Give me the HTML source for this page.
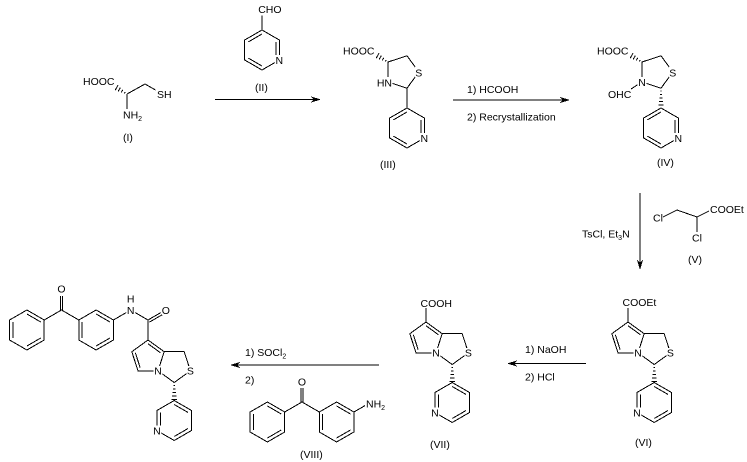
<!DOCTYPE html>
<html>
<head>
<meta charset="utf-8">
<style>
html,body{margin:0;padding:0;background:#fff;}
svg{display:block;}
text{font-family:"Liberation Sans",Arial,sans-serif;font-size:10.5px;fill:#000;}
.m{text-anchor:middle;}
.e{text-anchor:end;}
path{fill:none;stroke:#000;stroke-width:1;shape-rendering:crispEdges;}
.w{fill:#fff;stroke:none;}
.ah{fill:#000;stroke:none;shape-rendering:crispEdges;}
</style>
</head>
<body>
<svg width="747" height="462" viewBox="0 0 747 462" xmlns="http://www.w3.org/2000/svg">
<rect x="0" y="0" width="747" height="462" fill="#fff"/>

<!-- Compound I -->
<text x="83" y="85">HOOC</text>
<path d="M125.2,92.0 L124.4,93.4 M122.8,89.8 L121.3,92.4 M120.4,87.6 L118.2,91.3 M118.1,85.2 L115.0,90.4"/>
<path d="M127,94 L145,84 L155.5,90 M127,94 L127,109"/>
<text x="157" y="98">SH</text>
<text x="123" y="118.5">NH<tspan font-size="7" dy="2.5">2</tspan></text>
<text x="123" y="141">(I)</text>

<!-- Compound II -->
<text x="258.2" y="13">CHO</text>
<path d="M262,15.5 V30"/>
<g transform="translate(262,50)">
<path d="M0,-20 L17.32,-10 L17.32,10 L0,20 L-17.32,10 L-17.32,-10 Z M-13.86,-8 L0,-16 M13.86,-8 L13.86,8 M0,16 L-13.86,8"/>
<rect class="w" x="12.8" y="5" width="9" height="10"/>
<text class="m" x="17.32" y="13.8">N</text>
</g>
<text x="255" y="91">(II)</text>

<!-- Arrow 1 -->
<path d="M215,99.5 H314"/>
<polygon class="ah" points="321,99.5 311,96.5 313.5,99.5 311,102.5"/>

<!-- Compound III -->
<text x="343" y="54.5">HOOC</text>
<path d="M386.2,60 L385.4,61.4 M383.8,57.8 L382.3,60.4 M381.4,55.6 L379.2,59.3 M379.1,53.2 L376,58.4"/>
<path d="M388,62 L407,55.8 L418.8,72 L407,88.2 L388,82 Z M407,88.2 V108"/>
<rect class="w" x="383.5" y="77" width="9" height="10"/>
<rect class="w" x="414.8" y="67" width="8" height="10"/>
<text class="e" x="392" y="86.5">HN</text>
<text class="m" x="418.8" y="76.3">S</text>
<g transform="translate(407,128)">
<path d="M0,-20 L17.32,-10 L17.32,10 L0,20 L-17.32,10 L-17.32,-10 Z M-13.86,-8 L0,-16 M13.86,-8 L13.86,8 M0,16 L-13.86,8"/>
<rect class="w" x="12.8" y="5" width="9" height="10"/>
<text class="m" x="17.32" y="13.8">N</text>
</g>
<text x="380" y="168">(III)</text>

<!-- Arrow 2 -->
<path d="M453,100 H563"/>
<polygon class="ah" points="570,100 560,97 562.5,100 560,103"/>
<text x="467" y="93">1) HCOOH</text>
<text x="467" y="120.5">2) Recrystallization</text>

<!-- Compound IV -->
<text x="597" y="54.5">HOOC</text>
<path d="M640.2,60 L639.4,61.4 M637.8,57.8 L636.3,60.4 M635.4,55.6 L633.2,59.3 M633.1,53.2 L630,58.4"/>
<path d="M642,62 L661,55.8 L672.8,72 L661,88.2 L642,82 Z M642,82 L631,89"/>
<path d="M660.3,91 H661.7 M659.8,94.5 H662.2 M659.3,98 H662.7 M658.8,101.5 H663.2 M658.3,105 H663.7"/>
<rect class="w" x="637.5" y="77" width="9" height="10"/>
<rect class="w" x="668.8" y="67" width="8" height="10"/>
<text class="m" x="642" y="86">N</text>
<text class="m" x="672.8" y="76.3">S</text>
<text x="608" y="98">OHC</text>
<g transform="translate(661,128)">
<path d="M0,-20 L17.32,-10 L17.32,10 L0,20 L-17.32,10 L-17.32,-10 Z M-13.86,-8 L0,-16 M13.86,-8 L13.86,8 M0,16 L-13.86,8"/>
<rect class="w" x="12.8" y="5" width="9" height="10"/>
<text class="m" x="17.32" y="13.8">N</text>
</g>
<text x="657" y="166">(IV)</text>

<!-- Vertical arrow -->
<path d="M640,193 V263"/>
<polygon class="ah" points="640,270 637,260 640,262.5 643,260"/>
<text x="582" y="237.5">TsCl, Et<tspan font-size="7" dy="2.5">3</tspan><tspan dy="-2.5">N</tspan></text>

<!-- Compound V -->
<text x="653" y="221.5">Cl</text>
<path d="M663,217 L677,210 L697,217 L709,211 M697,217 V232"/>
<text x="710" y="213">COOEt</text>
<text x="692" y="241.5">Cl</text>
<text x="688" y="263">(V)</text>

<!-- Compound VI -->
<g transform="translate(628,322)">
<path d="M0,0 V-14"/>
<text x="-5.5" y="-16">COOEt</text>
<path d="M0,0 L16.2,11.7 L10,30.8 L-10,30.8 L-16.2,11.7 Z M16.2,11.7 L36.2,11.7 L42.4,30.8 L26.2,42.5 L10,30.8 M0,3.74 L12.64,12.87 M-12.64,12.87 L-7.8,27.76 M25.5,45.5 H26.9 M25,49 H27.4 M24.5,52.5 H27.9 M24,56 H28.4 M23.5,59.5 H28.9"/>
<rect class="w" x="5.5" y="26" width="9" height="10"/>
<rect class="w" x="38.4" y="26" width="8" height="10"/>
<text class="m" x="10" y="34.6">N</text>
<text class="m" x="42.4" y="34.6">S</text>
<g transform="translate(26.2,80.5)">
<path d="M0,-20 L17.32,-10 L17.32,10 L0,20 L-17.32,10 L-17.32,-10 Z M0,-16 L13.86,-8 M13.86,8 L0,16 M-13.86,8 L-13.86,-8"/>
<rect class="w" x="-21.8" y="5" width="9" height="10"/>
<text class="m" x="-17.32" y="13.8">N</text>
</g>
</g>
<text x="635" y="446">(VI)</text>

<!-- Arrow 3 -->
<path d="M586,363.5 H514"/>
<polygon class="ah" points="507,363.5 517,360.5 514.5,363.5 517,366.5"/>
<text x="525" y="353">1) NaOH</text>
<text x="525" y="380.5">2) HCl</text>

<!-- Compound VII -->
<g transform="translate(426,322)">
<path d="M0,0 V-14"/>
<text x="-5.5" y="-15">COOH</text>
<path d="M0,0 L16.2,11.7 L10,30.8 L-10,30.8 L-16.2,11.7 Z M16.2,11.7 L36.2,11.7 L42.4,30.8 L26.2,42.5 L10,30.8 M0,3.74 L12.64,12.87 M-12.64,12.87 L-7.8,27.76 M25.5,45.5 H26.9 M25,49 H27.4 M24.5,52.5 H27.9 M24,56 H28.4 M23.5,59.5 H28.9"/>
<rect class="w" x="5.5" y="26" width="9" height="10"/>
<rect class="w" x="38.4" y="26" width="8" height="10"/>
<text class="m" x="10" y="34.6">N</text>
<text class="m" x="42.4" y="34.6">S</text>
<g transform="translate(26.2,80.5)">
<path d="M0,-20 L17.32,-10 L17.32,10 L0,20 L-17.32,10 L-17.32,-10 Z M0,-16 L13.86,-8 M13.86,8 L0,16 M-13.86,8 L-13.86,-8"/>
<rect class="w" x="-21.8" y="5" width="9" height="10"/>
<text class="m" x="-17.32" y="13.8">N</text>
</g>
</g>
<text x="430" y="448">(VII)</text>

<!-- Arrow 4 -->
<path d="M379,365 H237"/>
<polygon class="ah" points="230,365 240,362 237.5,365 240,368"/>
<text x="245" y="356">1) SOCl<tspan font-size="7" dy="2.5">2</tspan></text>
<text x="245" y="383.5">2)</text>

<!-- Compound VIII -->
<g transform="translate(267.4,422)">
<path d="M0,-20 L17.32,-10 L17.32,10 L0,20 L-17.32,10 L-17.32,-10 Z M0,-16 L13.86,-8 M13.86,8 L0,16 M-13.86,8 L-13.86,-8"/>
</g>
<g transform="translate(336.6,422)">
<path d="M0,-20 L17.32,-10 L17.32,10 L0,20 L-17.32,10 L-17.32,-10 Z M0,-16 L13.86,-8 M13.86,8 L0,16 M-13.86,8 L-13.86,-8"/>
</g>
<path d="M284.7,412 L302,402 L319.3,412 M300.8,402 V388 M303.2,402 V388 M353.9,412 L365,405.6"/>
<text class="m" x="302" y="385.5">O</text>
<text x="366" y="407.5">NH<tspan font-size="7" dy="2.5">2</tspan></text>
<text x="300" y="458">(VIII)</text>

<!-- Final product -->
<g transform="translate(26.9,330)">
<path d="M0,-20 L17.32,-10 L17.32,10 L0,20 L-17.32,10 L-17.32,-10 Z M0,-16 L13.86,-8 M13.86,8 L0,16 M-13.86,8 L-13.86,-8"/>
</g>
<g transform="translate(96.1,330)">
<path d="M0,-20 L17.32,-10 L17.32,10 L0,20 L-17.32,10 L-17.32,-10 Z M0,-16 L13.86,-8 M13.86,8 L0,16 M-13.86,8 L-13.86,-8"/>
</g>
<path d="M44.2,320 L61.5,310 L78.8,320 M60.3,310 V296 M62.7,310 V296"/>
<text class="m" x="61.5" y="292.5">O</text>
<path d="M113.4,320 L130.7,310 L148,320 V340 M148,320 L160.8,312.6 M149.3,322.2 L162.1,314.8"/>
<rect class="w" x="126.2" y="305" width="9" height="10"/>
<text class="m" x="130.7" y="314">N</text>
<text class="m" x="130.7" y="302.5">H</text>
<text class="m" x="165.8" y="314">O</text>
<g transform="translate(148,340)">
<path d="M0,0 L16.2,11.7 L10,30.8 L-10,30.8 L-16.2,11.7 Z M16.2,11.7 L36.2,11.7 L42.4,30.8 L26.2,42.5 L10,30.8 M0,3.74 L12.64,12.87 M-12.64,12.87 L-7.8,27.76 M25.5,45.5 H26.9 M25,49 H27.4 M24.5,52.5 H27.9 M24,56 H28.4 M23.5,59.5 H28.9"/>
<rect class="w" x="5.5" y="26" width="9" height="10"/>
<rect class="w" x="38.4" y="26" width="8" height="10"/>
<text class="m" x="10" y="34.6">N</text>
<text class="m" x="42.4" y="34.6">S</text>
<g transform="translate(26.2,80.5)">
<path d="M0,-20 L17.32,-10 L17.32,10 L0,20 L-17.32,10 L-17.32,-10 Z M0,-16 L13.86,-8 M13.86,8 L0,16 M-13.86,8 L-13.86,-8"/>
<rect class="w" x="-21.8" y="5" width="9" height="10"/>
<text class="m" x="-17.32" y="13.8">N</text>
</g>
</g>

</svg>
</body>
</html>
